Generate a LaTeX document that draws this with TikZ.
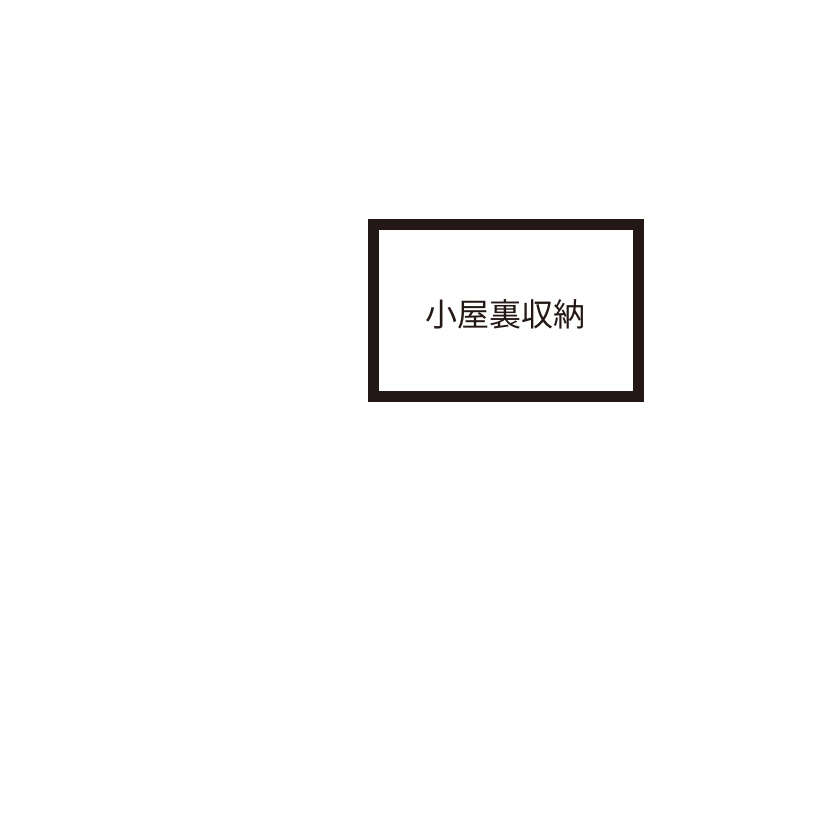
\documentclass[tikz,border=0pt]{standalone}
\usepackage{fontspec}
\newfontfamily\cjk{Noto Sans CJK JP}
\definecolor{ink}{HTML}{231815}
\begin{document}
\begin{tikzpicture}[x=1pt,y=1pt,
  roombox/.style={draw=ink,line width=11pt,minimum width=265.4pt,minimum height=172.2pt,inner sep=0pt},
  roomlabel/.style={text=ink,font=\cjk\fontsize{32}{36}\selectfont,inner sep=0pt}]
\useasboundingbox[fill=white] (0,0) rectangle (840,840);
\node[roombox] (box) at (506,{840-310.9}) {};
\node[roomlabel] (lbl) at (505,{840-314}) {小屋裏収納};
\end{tikzpicture}
\end{document}
